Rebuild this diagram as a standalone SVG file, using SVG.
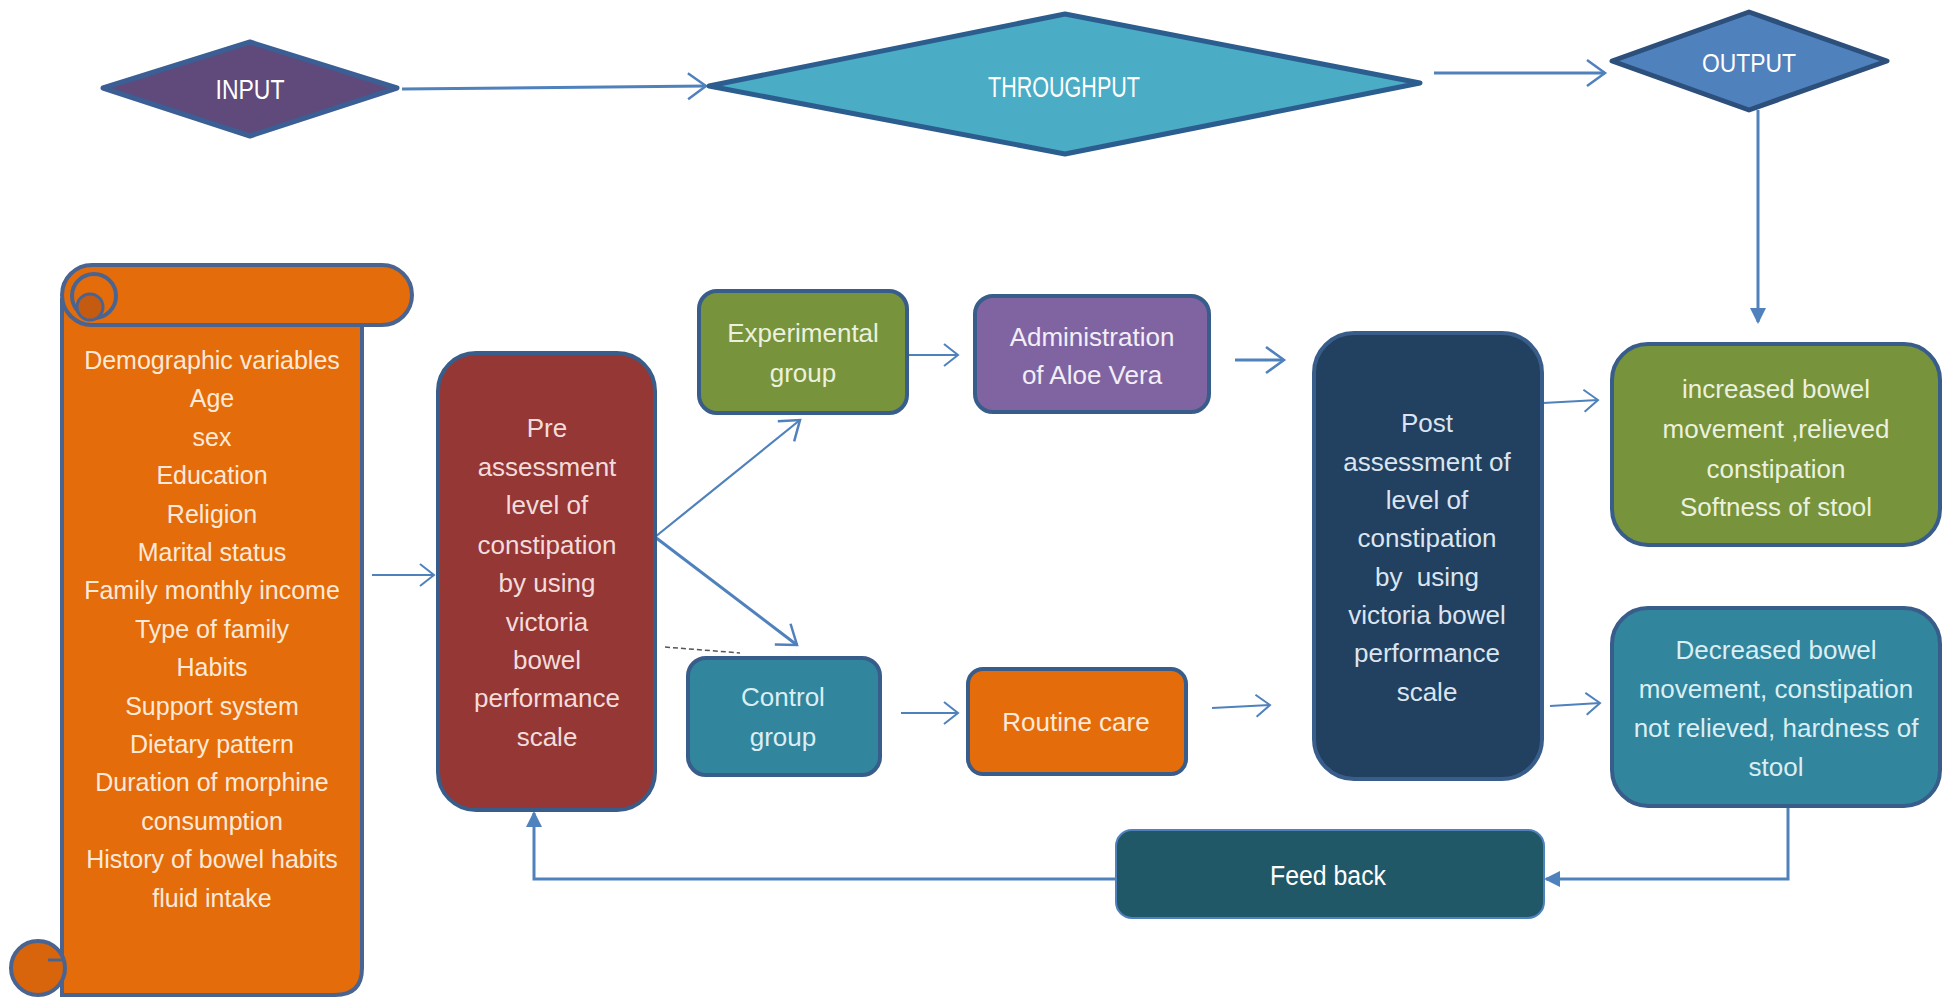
<svg xmlns="http://www.w3.org/2000/svg" width="1944" height="998" viewBox="0 0 1944 998">
<defs>
<style>
text{font-family:"Liberation Sans",Arial,sans-serif;text-anchor:middle;}
.t{font-size:26px;}
.s{font-size:25px;fill:#fde9d9;}
.box{stroke:#385d8a;stroke-width:4;}
.c{fill:none;stroke:#4f81bd;stroke-width:3;}
.c2{fill:none;stroke:#4f81bd;stroke-width:2.2;}
.orange{fill:#e46c0a;stroke:#4a6491;stroke-width:4;}
</style>
<marker id="open" markerUnits="userSpaceOnUse" markerWidth="30" markerHeight="34" refX="20" refY="14" orient="auto" overflow="visible">
<path d="M2,1 L20,14 L2,27" fill="none" stroke="#4f81bd" stroke-width="2.5"/>
</marker>
<marker id="openS" markerUnits="userSpaceOnUse" markerWidth="24" markerHeight="28" refX="16" refY="12" orient="auto" overflow="visible">
<path d="M2,1 L16,12 L2,23" fill="none" stroke="#4f81bd" stroke-width="2"/>
</marker>
<marker id="fill" markerUnits="userSpaceOnUse" markerWidth="20" markerHeight="20" refX="14" refY="8" orient="auto" overflow="visible">
<path d="M0,0 L16,8 L0,16 Z" fill="#4f81bd"/>
</marker>
</defs>
<rect width="1944" height="998" fill="#ffffff"/>

<g id="connectors">
<path class="c" d="M402,89 L706,86" marker-end="url(#open)"/>
<path class="c" d="M1434,73 L1605,73" marker-end="url(#open)"/>
<path class="c" d="M1758,110 L1758,322" marker-end="url(#fill)"/>
<path class="c2" d="M372,575 L434,575" marker-end="url(#openS)"/>
<path class="c2" d="M655,537 L800,420" marker-end="url(#open)"/>
<path class="c" d="M655,537 L797,645" marker-end="url(#open)"/>
<path class="c2" d="M909,355 L958,355" marker-end="url(#openS)"/>
<path class="c" d="M1235,360 L1284,360" marker-end="url(#open)"/>
<path class="c2" d="M901,713 L958,713" marker-end="url(#openS)"/>
<path class="c2" d="M1212,708 L1270,705" marker-end="url(#openS)"/>
<path class="c2" d="M1543,403 L1598,400" marker-end="url(#openS)"/>
<path class="c2" d="M1550,706 L1600,703" marker-end="url(#openS)"/>
<path class="c" d="M1788,807 L1788,879 L1546,879" marker-end="url(#fill)"/>
<path class="c" d="M1116,879 L534,879 L534,813" marker-end="url(#fill)"/>
<path d="M665,647 L740,653" fill="none" stroke="#555555" stroke-width="1.5" stroke-dasharray="5,3"/>
</g>

<g id="input">
<polygon points="103,88 250,42 397,88 250,136" fill="#604a7b" stroke="#3b5e95" stroke-width="5" stroke-linejoin="round"/>
<text x="250" y="99" font-size="28" fill="#ffffff" textLength="69" lengthAdjust="spacingAndGlyphs">INPUT</text>
</g>

<g id="throughput">
<polygon points="709,86 1065,14 1420,83 1065,154" fill="#4bacc6" stroke="#2c5d8f" stroke-width="5" stroke-linejoin="round"/>
<text x="1064" y="97" font-size="30" fill="#ffffff" textLength="152" lengthAdjust="spacingAndGlyphs">THROUGHPUT</text>
</g>

<g id="output">
<polygon points="1612,61 1749,12 1887,61 1749,110" fill="#4f81bd" stroke="#2c4f7c" stroke-width="5" stroke-linejoin="round"/>
<text x="1749" y="72" font-size="26" fill="#ffffff" textLength="94" lengthAdjust="spacingAndGlyphs">OUTPUT</text>
</g>

<g id="demographics">
<path class="orange" d="M62,300 L62,995 L335,995 Q362,995 362,968 L362,325 Z"/>
<circle class="orange" cx="38" cy="968" r="27" fill="#d8640c" style="fill:#d8640c"/>
<path d="M48,960 L62,960" stroke="#4a6491" stroke-width="3" fill="none"/>
<rect class="orange" x="62" y="265" width="350" height="60" rx="30"/>
<circle class="orange" cx="94" cy="296" r="22"/>
<circle cx="90" cy="307" r="13" fill="#c55a11" stroke="#4a6491" stroke-width="3"/>
<text class="s" x="212" y="369">Demographic variables</text>
<text class="s" x="212" y="407">Age</text>
<text class="s" x="212" y="446">sex</text>
<text class="s" x="212" y="484">Education</text>
<text class="s" x="212" y="523">Religion</text>
<text class="s" x="212" y="561">Marital status</text>
<text class="s" x="212" y="599">Family monthly income</text>
<text class="s" x="212" y="638">Type of family</text>
<text class="s" x="212" y="676">Habits</text>
<text class="s" x="212" y="715">Support system</text>
<text class="s" x="212" y="753">Dietary pattern</text>
<text class="s" x="212" y="791">Duration of morphine</text>
<text class="s" x="212" y="830">consumption</text>
<text class="s" x="212" y="868">History of bowel habits</text>
<text class="s" x="212" y="907">fluid intake</text>
</g>

<g id="pre-assessment">
<rect class="box" x="438" y="353" width="217" height="457" rx="38" fill="#953735"/>
<g class="t" fill="#f2dcdb">
<text x="547" y="437">Pre</text>
<text x="547" y="476">assessment</text>
<text x="547" y="514">level of</text>
<text x="547" y="554">constipation</text>
<text x="547" y="592">by using</text>
<text x="547" y="631">victoria</text>
<text x="547" y="669">bowel</text>
<text x="547" y="707">performance</text>
<text x="547" y="746">scale</text>
</g>
</g>

<g id="experimental">
<rect class="box" x="699" y="291" width="208" height="122" rx="18" fill="#77933c"/>
<g class="t" fill="#ebf1de">
<text x="803" y="342">Experimental</text>
<text x="803" y="382">group</text>
</g>
</g>

<g id="control">
<rect class="box" x="688" y="658" width="192" height="117" rx="18" fill="#31859c"/>
<g class="t" fill="#dbeef4">
<text x="783" y="706">Control</text>
<text x="783" y="746">group</text>
</g>
</g>

<g id="administration">
<rect class="box" x="975" y="296" width="234" height="116" rx="18" fill="#8064a2"/>
<g class="t" fill="#f2eef7">
<text x="1092" y="346">Administration</text>
<text x="1092" y="384">of Aloe Vera</text>
</g>
</g>

<g id="routine">
<rect class="box" x="968" y="669" width="218" height="105" rx="15" fill="#e46c0a"/>
<text class="t" x="1076" y="731" fill="#fde9d9">Routine care</text>
</g>

<g id="post-assessment">
<rect class="box" x="1314" y="333" width="228" height="446" rx="40" fill="#22405f"/>
<g class="t" fill="#dbe5f1">
<text x="1427" y="432">Post</text>
<text x="1427" y="471">assessment of</text>
<text x="1427" y="509">level of</text>
<text x="1427" y="547">constipation</text>
<text x="1427" y="586" xml:space="preserve">by  using</text>
<text x="1427" y="624">victoria bowel</text>
<text x="1427" y="662">performance</text>
<text x="1427" y="701">scale</text>
</g>
</g>

<g id="increased">
<rect class="box" x="1612" y="344" width="328" height="201" rx="36" fill="#77933c"/>
<g class="t" fill="#ebf1de">
<text x="1776" y="398">increased bowel</text>
<text x="1776" y="438">movement ,relieved</text>
<text x="1776" y="478">constipation</text>
<text x="1776" y="516">Softness of stool</text>
</g>
</g>

<g id="decreased">
<rect class="box" x="1612" y="608" width="328" height="198" rx="36" fill="#31859c"/>
<g class="t" fill="#dbeef4">
<text x="1776" y="659">Decreased bowel</text>
<text x="1776" y="698">movement, constipation</text>
<text x="1776" y="737">not relieved, hardness of</text>
<text x="1776" y="776">stool</text>
</g>
</g>

<g id="feedback">
<rect x="1116" y="830" width="428" height="88" rx="16" fill="#215868" stroke="#4f81bd" stroke-width="2"/>
<text x="1328" y="885" font-size="27" fill="#ffffff" textLength="116" lengthAdjust="spacingAndGlyphs">Feed back</text>
</g>
</svg>
